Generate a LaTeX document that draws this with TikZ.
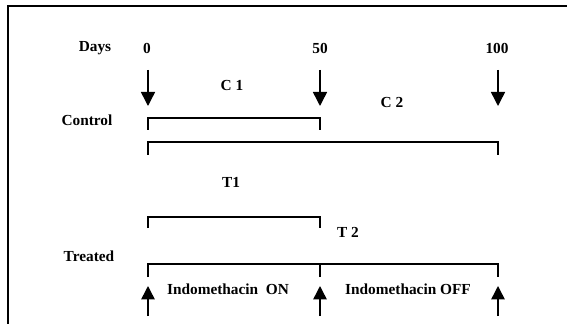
\documentclass[tikz,border=0pt]{standalone}
\usepackage{fontspec}
\setmainfont{Liberation Serif}
\usepackage{tikz}
\usetikzlibrary{positioning}
\usetikzlibrary{arrows.meta}

\tikzset{
	lbl/.style={font=\bfseries\fontsize{11.5}{13}\selectfont, inner sep=0pt},
	bracket/.style={line width=1pt},
	downarrow/.style={line width=1.1pt, -{Triangle[length=10.5pt,width=10.5pt]}},
	uparrow/.style={line width=1.1pt, -{Triangle[length=10pt,width=10pt]}}
}

\begin{document}
\begin{tikzpicture}[x=0.75pt,y=-0.75pt]
	\useasboundingbox (0,0) rectangle (567,324);
	\draw[line width=1.5pt] (567,6) -- (8,6) -- (8,324);

	% time axis
	\node[lbl] (days) at (95,48) {Days};
	\node[lbl] (d0) at (147,48) {0};
	\node[lbl] (d50) at (320,48) {50};
	\node[lbl] (d100) at (497,48) {100};

	\coordinate (s0) at (148,70);
	\coordinate (e0) at (148,106);
	\coordinate (s50) at (320,70);
	\coordinate (e50) at (320,106);
	\coordinate (s100) at (498,70);
	\coordinate (e100) at (498,106);
	\draw[downarrow] (s0) -- (e0);
	\draw[downarrow] (s50) -- (e50);
	\draw[downarrow] (s100) -- (e100);

	% control
	\node[lbl] (ctrl) at (87,120) {Control};
	\node[lbl] (c1) at (232,85) {C 1};
	\node[lbl] (c2) at (392,102) {C 2};
	\coordinate (c1a) at (148,130);
	\coordinate (c1b) at (320,130);
	\coordinate (c2a) at (148,155);
	\coordinate (c2b) at (498,155);
	\draw[bracket] (c1a) -- ++(0,-12) -| (c1b);
	\draw[bracket] (c2a) -- ++(0,-13) -| (c2b);

	% treated
	\node[lbl] (tr) at (89,256) {Treated};
	\node[lbl] (t1) at (231,182) {T1};
	\node[lbl] (t2) at (348,232) {T 2};
	\coordinate (t1a) at (148,228);
	\coordinate (t1b) at (320,228);
	\coordinate (t2a) at (148,277);
	\coordinate (t2m) at (320,277);
	\coordinate (t2b) at (498,277);
	\draw[bracket] (t1a) -- ++(0,-11) -| (t1b);
	\draw[bracket] (t2a) -- ++(0,-13) -| (t2b);
	\draw[bracket] (t2m) -- ++(0,-13);

	\node[lbl] (on) at (228,289) {Indomethacin\ \ ON};
	\node[lbl] (off) at (408,289) {Indomethacin OFF};
	\coordinate (u0) at (148,316);
	\coordinate (v0) at (148,286);
	\coordinate (u50) at (320,316);
	\coordinate (v50) at (320,286);
	\coordinate (u100) at (498,316);
	\coordinate (v100) at (498,286);
	\draw[uparrow] (u0) -- (v0);
	\draw[uparrow] (u50) -- (v50);
	\draw[uparrow] (u100) -- (v100);
\end{tikzpicture}
\end{document}
